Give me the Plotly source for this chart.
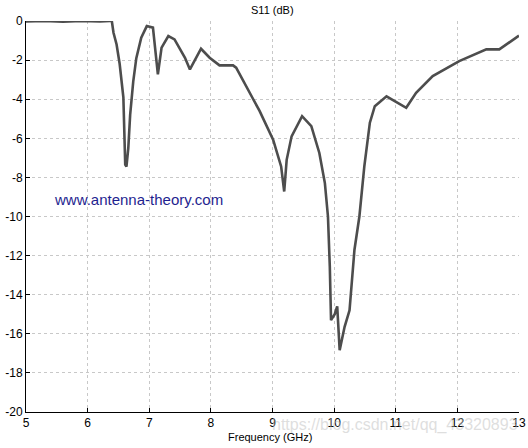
import plotly.graph_objects as go

freq_ghz = [5.0, 5.3, 5.6, 5.9, 6.2, 6.36, 6.39, 6.42, 6.47, 6.52, 6.58, 6.60, 6.61, 6.63,
            6.66, 6.69, 6.74, 6.79, 6.87, 6.96, 7.06, 7.14, 7.20, 7.31, 7.41, 7.58, 7.66,
            7.84, 7.98, 8.14, 8.36, 8.41, 8.68, 8.79, 9.01, 9.14, 9.19, 9.23, 9.31, 9.48,
            9.63, 9.76, 9.85, 9.90, 9.93, 9.95, 10.01, 10.05, 10.09, 10.17, 10.25, 10.33,
            10.41, 10.49, 10.58, 10.66, 10.85, 11.17, 11.33, 11.60, 12.03, 12.47, 12.68, 13.0]
s11_db = [-0.02, 0.0, -0.03, 0.0, -0.02, 0.0, 0.05, -0.6, -1.2, -2.2, -3.9, -5.6, -7.35, -7.45,
          -6.5, -4.8, -3.1, -1.9, -0.85, -0.26, -0.34, -2.73, -1.36, -0.77, -0.94, -1.88, -2.48,
          -1.42, -1.88, -2.27, -2.27, -2.39, -4.0, -4.6, -6.07, -7.44, -8.72, -7.1, -5.9, -4.87,
          -5.38, -6.75, -8.29, -10.0, -12.56, -15.3, -15.0, -14.6, -16.84, -15.64, -14.8, -11.7,
          -10.0, -7.44, -5.2, -4.36, -3.85, -4.44, -3.67, -2.82, -2.05, -1.45, -1.45, -0.75]

x_ticks = [5, 6, 7, 8, 9, 10, 11, 12, 13]
x_tick_labels = ["5", "6", "7", "8", "9", "10", "11", "12", "13"]
y_ticks = [0, -2, -4, -6, -8, -10, -12, -14, -16, -18, -20]
y_tick_labels = ["0", "-2", "-4", "-6", "-8", "-10", "-12", "-14", "-16", "-18", "-20"]

title_text = "S11 (dB)"
x_title = "Frequency (GHz)"
site_text = "www.antenna-theory.com"
watermark_text = "https://blog.csdn.net/qq_43320893"

font_family = "Liberation Sans, Arial, sans-serif"

fig = go.Figure()
fig.add_trace(go.Scatter(
    x=freq_ghz, y=s11_db, mode="lines",
    line=dict(color="#4d4d4d", width=2.6),
    hoverinfo="skip", showlegend=False,
))

fig.update_layout(
    width=528, height=448,
    margin=dict(l=26, r=9, t=21, b=36, autoexpand=False),
    paper_bgcolor="white", plot_bgcolor="white",
    font=dict(family=font_family, size=12, color="black"),
    showlegend=False,
)

fig.update_xaxes(
    range=[5, 13], tickvals=x_ticks, ticktext=x_tick_labels, automargin=False,
    showline=True, linecolor="black", linewidth=1, mirror=False,
    ticks="inside", ticklen=4, tickcolor="black",
    showgrid=True, gridcolor="#c8c8c8", griddash="dot", gridwidth=1,
    zeroline=False, tickfont=dict(size=12),
)
fig.update_yaxes(
    range=[-20, 0], tickvals=y_ticks, ticktext=y_tick_labels, automargin=False,
    showline=True, linecolor="black", linewidth=1, mirror=False,
    ticks="inside", ticklen=4, tickcolor="black",
    showgrid=True, gridcolor="#c8c8c8", griddash="dot", gridwidth=1,
    zeroline=False, tickfont=dict(size=12), ticklabelstandoff=0,
)

fig.add_annotation(
    x=0.5, y=1.0, xref="paper", yref="paper", yshift=11, text=title_text,
    showarrow=False, xanchor="center", yanchor="middle",
    font=dict(size=11, color="black", family=font_family),
)
fig.add_annotation(
    x=0.495, y=0.0, xref="paper", yref="paper", yshift=-25, text=x_title,
    showarrow=False, xanchor="center", yanchor="middle",
    font=dict(size=11, color="black", family=font_family),
)

fig.add_annotation(
    x=6.83, y=-9.15, xref="x", yref="y", text=site_text, showarrow=False,
    xanchor="center", yanchor="middle",
    font=dict(size=15, color="#1f1f8f", family=font_family),
)
fig.add_annotation(
    x=0.749, y=0.0, xref="paper", yref="paper", yshift=-13, text=watermark_text,
    showarrow=False, xanchor="center", yanchor="middle",
    font=dict(size=16, color="rgba(190,190,190,0.5)", family=font_family),
)

fig.write_html("out.html", config={"displayModeBar": False},
               post_script="document.body.style.margin='0';")
